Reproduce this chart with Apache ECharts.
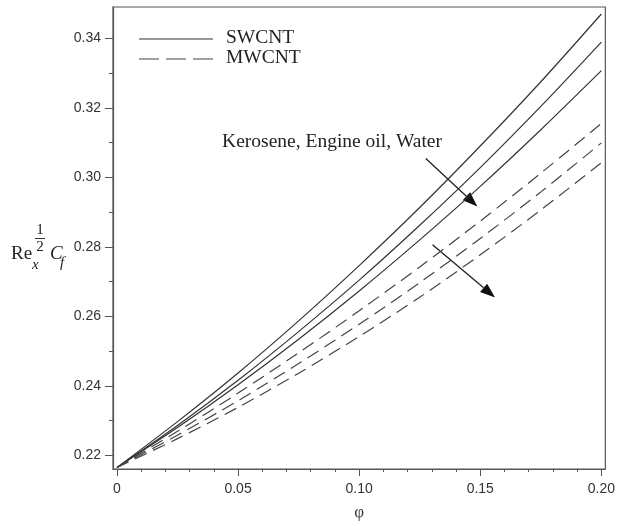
<!DOCTYPE html>
<html><head><meta charset="utf-8">
<script src="https://cdn.jsdelivr.net/npm/echarts@6/dist/echarts.min.js"></script>
<style>html,body{margin:0;padding:0;background:#fff}#c{width:618px;height:526px}</style>
</head><body><div id="c"></div>
<script>
// ---- data ----
const phi = [0, 0.025, 0.05, 0.075, 0.10, 0.125, 0.15, 0.175, 0.20];
const swcntKerosene  = [0.2165, 0.2297, 0.2437, 0.2587, 0.2746, 0.2913, 0.3090, 0.3275, 0.3470];
const swcntEngineOil = [0.2165, 0.2286, 0.2416, 0.2556, 0.2704, 0.2862, 0.3028, 0.3204, 0.3389];
const swcntWater     = [0.2165, 0.2280, 0.2403, 0.2534, 0.2673, 0.2820, 0.2974, 0.3137, 0.3307];
const mwcntKerosene  = [0.2165, 0.2269, 0.2379, 0.2495, 0.2616, 0.2742, 0.2874, 0.3012, 0.3155];
const mwcntEngineOil = [0.2165, 0.2258, 0.2357, 0.2464, 0.2577, 0.2697, 0.2824, 0.2958, 0.3099];
const mwcntWater     = [0.2165, 0.2248, 0.2338, 0.2436, 0.2542, 0.2655, 0.2777, 0.2906, 0.3042];
const xTickValues = [0, 0.05, 0.10, 0.15, 0.20];
const xMinorValues = [0.01,0.02,0.03,0.04,0.06,0.07,0.08,0.09,0.11,0.12,0.13,0.14,0.16,0.17,0.18,0.19];
const yTickValues = [0.22, 0.24, 0.26, 0.28, 0.30, 0.32, 0.34];
const yMinorValues = [0.23, 0.25, 0.27, 0.29, 0.31, 0.33];
const legendNames = ['SWCNT', 'MWCNT'];
const annotationText = 'Kerosene, Engine oil, Water';
// annotation anchors in data coordinates [phi, value]
const annotationAnchor = [0.0434, 0.3101];
const arrowSwcnt = [[0.1275, 0.3054], [0.1488, 0.2916]];
const arrowMwcnt = [[0.1303, 0.2806], [0.1561, 0.2654]];

const chart = echarts.init(document.getElementById('c'), null, {renderer: 'canvas'});
const axisColor = '#555';
const tickFont = {fontFamily: "'Liberation Sans', Arial, sans-serif", fontSize: 14, color: '#333'};
const fmt = v => (Math.abs(v) < 1e-9 ? '0' : v.toFixed(2));
const xMin = -0.00164, xMax = 0.20164, yMin = 0.21606, yMax = 0.34901;

function pairs(ys) { return phi.map((x, i) => [x, ys[i]]); }
function ser(name, ys, dashed) {
  return {
    name, type: 'line', data: pairs(ys), smooth: 0.3, symbol: 'none', showSymbol: false,
    xAxisIndex: 0, yAxisIndex: 0, silent: true,
    lineStyle: {color: dashed ? '#444' : '#333', width: 1.2, type: dashed ? [13, 7] : 'solid'}
  };
}

chart.setOption({
  animation: false,
  backgroundColor: '#fff',
  grid: {left: 113, right: 9, top: 7, bottom: 47, show: true, borderColor: axisColor, borderWidth: 1.2, backgroundColor: 'transparent'},
  xAxis: [{
    type: 'value', min: xMin, max: xMax, position: 'bottom',
    name: 'φ', nameLocation: 'middle', nameGap: 35,
    nameTextStyle: {fontFamily: "'Liberation Serif', serif", fontSize: 17, color: '#333'},
    axisLine: {show: true, onZero: false, lineStyle: {color: axisColor, width: 1.2}},
    axisTick: {show: true, inside: false, length: 7, customValues: xTickValues, lineStyle: {color: axisColor}},
    axisLabel: Object.assign({show: true, margin: 13, customValues: xTickValues, formatter: fmt}, tickFont),
    splitLine: {show: false}
  }, {
    type: 'value', min: xMin, max: xMax, position: 'bottom', gridIndex: 0,
    axisLine: {show: false, onZero: false},
    axisTick: {show: true, inside: false, length: 3, customValues: xMinorValues, lineStyle: {color: axisColor}},
    axisLabel: {show: false}, splitLine: {show: false}
  }],
  yAxis: [{
    type: 'value', min: yMin, max: yMax, position: 'left',
    axisLine: {show: true, onZero: false, lineStyle: {color: axisColor, width: 1.2}},
    axisTick: {show: true, inside: false, length: 8, customValues: yTickValues, lineStyle: {color: axisColor}},
    axisLabel: Object.assign({show: true, margin: 12, customValues: yTickValues, formatter: fmt}, tickFont),
    splitLine: {show: false}
  }, {
    type: 'value', min: yMin, max: yMax, position: 'left', gridIndex: 0,
    axisLine: {show: false, onZero: false},
    axisTick: {show: true, inside: false, length: 4, customValues: yMinorValues, lineStyle: {color: axisColor}},
    axisLabel: {show: false}, splitLine: {show: false}
  }],
  series: [
    ser(legendNames[0], swcntKerosene, false),
    ser(legendNames[0], swcntEngineOil, false),
    ser(legendNames[0], swcntWater, false),
    ser(legendNames[1], mwcntKerosene, true),
    ser(legendNames[1], mwcntEngineOil, true),
    ser(legendNames[1], mwcntWater, true)
  ]
});

function px(p) { return chart.convertToPixel({xAxisIndex: 0, yAxisIndex: 0}, p); }
function arrow(a) {
  const s = px(a[0]), e = px(a[1]);
  const dx = e[0] - s[0], dy = e[1] - s[1], L = Math.hypot(dx, dy);
  const ux = dx / L, uy = dy / L, hl = 15, hw = 5.5;
  const bx = e[0] - ux * hl, by = e[1] - uy * hl;
  return [
    {type: 'line', shape: {x1: s[0], y1: s[1], x2: bx, y2: by}, style: {stroke: '#222', lineWidth: 1.3}, silent: true},
    {type: 'polygon', shape: {points: [[e[0], e[1]], [bx - uy * hw, by + ux * hw], [bx + uy * hw, by - ux * hw]]}, style: {fill: '#111'}, silent: true}
  ];
}
const serif = "'Liberation Serif', 'Times New Roman', serif";
const ap = px(annotationAnchor);
const graphics = [
  // legend
  {type: 'line', shape: {x1: 139, y1: 39, x2: 213, y2: 39}, style: {stroke: '#333', lineWidth: 1.2}, silent: true},
  {type: 'line', shape: {x1: 139, y1: 59, x2: 213, y2: 59}, style: {stroke: '#444', lineWidth: 1.2, lineDash: [20, 7]}, silent: true},
  {type: 'text', x: 226, y: 38, style: {text: legendNames[0], font: '19.5px ' + serif, fill: '#222', verticalAlign: 'middle', align: 'left'}, silent: true},
  {type: 'text', x: 226, y: 58, style: {text: legendNames[1], font: '19.5px ' + serif, fill: '#222', verticalAlign: 'middle', align: 'left'}, silent: true},
  // annotation
  {type: 'text', x: ap[0], y: ap[1], style: {text: annotationText, font: '19.5px ' + serif, fill: '#222', verticalAlign: 'middle', align: 'left'}, silent: true},
  // y axis title: Re_x^{1/2} C_f
  {type: 'text', x: 11, y: 254, style: {text: 'Re', font: '19px ' + serif, fill: '#222', verticalAlign: 'middle'}, silent: true},
  {type: 'text', x: 32, y: 265, style: {text: 'x', font: 'italic 15px ' + serif, fill: '#222', verticalAlign: 'middle'}, silent: true},
  {type: 'text', x: 40, y: 230, style: {text: '1', font: '15px ' + serif, fill: '#222', verticalAlign: 'middle', align: 'center'}, silent: true},
  {type: 'line', shape: {x1: 35, y1: 238.5, x2: 45, y2: 238.5}, style: {stroke: '#333', lineWidth: 1}, silent: true},
  {type: 'text', x: 40, y: 247, style: {text: '2', font: '15px ' + serif, fill: '#222', verticalAlign: 'middle', align: 'center'}, silent: true},
  {type: 'text', x: 50, y: 254, style: {text: 'C', font: 'italic 19px ' + serif, fill: '#222', verticalAlign: 'middle'}, silent: true},
  {type: 'text', x: 60, y: 263, style: {text: 'f', font: 'italic 15px ' + serif, fill: '#222', verticalAlign: 'middle'}, silent: true}
].concat(arrow(arrowSwcnt), arrow(arrowMwcnt));
chart.setOption({graphic: graphics});
</script>
</body></html>
